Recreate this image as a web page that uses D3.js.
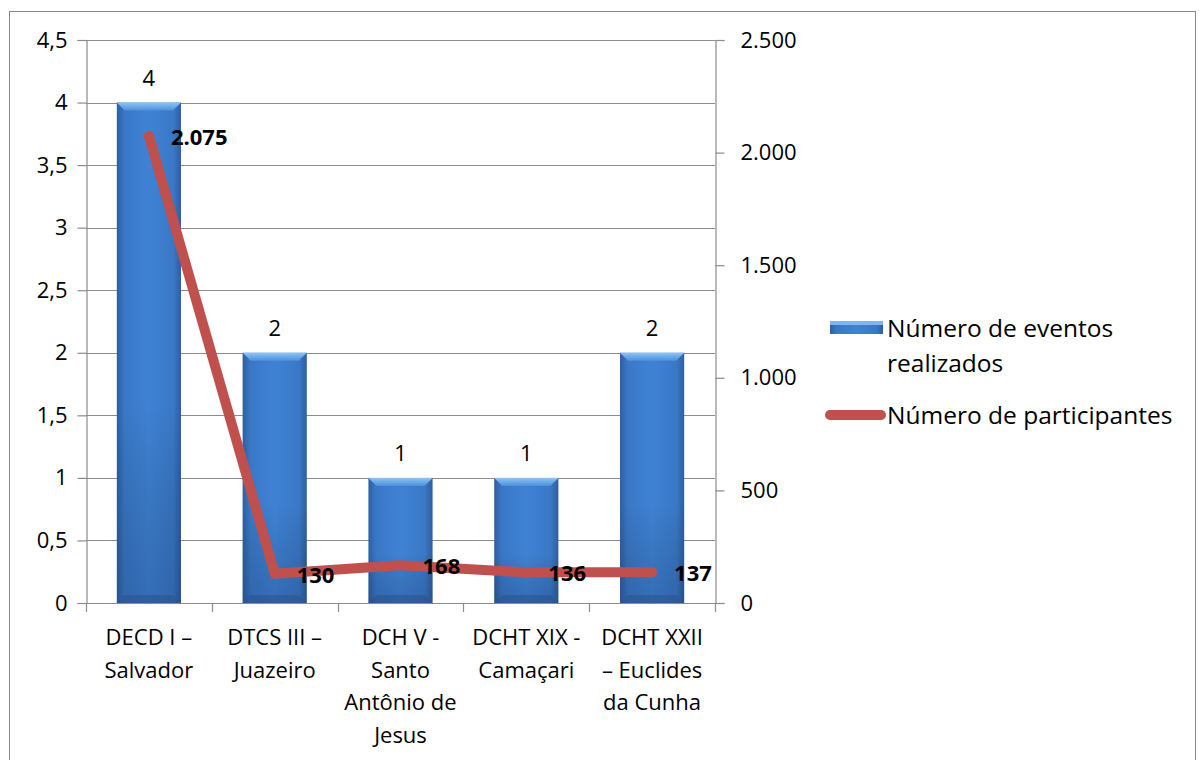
<!DOCTYPE html>
<html><head><meta charset="utf-8">
<script src="https://cdn.jsdelivr.net/npm/d3@7"></script>
<style>body{margin:0;background:#fff}svg{display:block;font-family:"Open Sans",Lato,sans-serif}</style>
</head><body>
<svg id="c" width="1199" height="760"></svg>
<script>
const categories = [
  ["DECD I –","Salvador"],
  ["DTCS III –","Juazeiro"],
  ["DCH V -","Santo","Antônio de","Jesus"],
  ["DCHT XIX -","Camaçari"],
  ["DCHT XXII","– Euclides","da Cunha"]
];
const eventos = [4, 2, 1, 1, 2];
const participantes = [2075, 130, 168, 136, 137];
const leftTicks = [0,0.5,1,1.5,2,2.5,3,3.5,4,4.5];
const rightTicks = [0,500,1000,1500,2000,2500];
const seriesNames = ["Número de eventos realizados","Número de participantes"];

const svg = d3.select("#c");
const L = 86, R = 715, T = 40, B = 603;
const FS = 22, LFS = 24.5;
const fmtL = d => String(d).replace(".", ",");
const fmtR = d => d3.format(",")(d).replace(/,/g, ".");

const x = d3.scaleBand().domain(d3.range(categories.length)).range([L, R]).paddingInner(0.49).paddingOuter(0.245);
const xb = d3.scaleBand().domain(d3.range(categories.length)).range([L, R]);
const yL = d3.scaleLinear().domain([0, 4.5]).range([B, T]);
const yR = d3.scaleLinear().domain([0, 2500]).range([B, T]);

svg.append("rect").attr("x",9.5).attr("y",11.5).attr("width",1186).attr("height",760).attr("fill","none").attr("stroke","#888").attr("stroke-width",1);

const defs = svg.append("defs");
const g1 = defs.append("linearGradient").attr("id","barG").attr("x1","0").attr("x2","1").attr("y1","0").attr("y2","0");
g1.append("stop").attr("offset","0").attr("stop-color","#2d5f9f");
g1.append("stop").attr("offset","0.12").attr("stop-color","#3a78c6");
g1.append("stop").attr("offset","0.5").attr("stop-color","#3f82d4");
g1.append("stop").attr("offset","0.88").attr("stop-color","#3a78c6");
g1.append("stop").attr("offset","1").attr("stop-color","#2d5f9f");
const g2 = defs.append("linearGradient").attr("id","barV").attr("x1","0").attr("x2","0").attr("y1","0").attr("y2","1");
g2.append("stop").attr("offset","0").attr("stop-color","#ffffff").attr("stop-opacity",0);
g2.append("stop").attr("offset","0.6").attr("stop-color","#000000").attr("stop-opacity",0.0);
g2.append("stop").attr("offset","1").attr("stop-color","#0a1e3c").attr("stop-opacity",0.2);
const g3 = defs.append("linearGradient").attr("id","topG").attr("x1","0").attr("x2","0").attr("y1","0").attr("y2","1");
g3.append("stop").attr("offset","0").attr("stop-color","#8ec4f5");
g3.append("stop").attr("offset","1").attr("stop-color","#4b90de");

svg.append("g").selectAll("line").data(leftTicks).join("line")
  .attr("x1",L).attr("x2",R).attr("y1",d=>Math.round(yL(d))+0.5).attr("y2",d=>Math.round(yL(d))+0.5)
  .attr("stroke","#8c8c8c").attr("stroke-width",1.2);

const ax = svg.append("g").attr("transform",`translate(${L+0.5},0)`)
  .call(d3.axisLeft(yL).tickValues(leftTicks).tickFormat(fmtL).tickSize(9).tickPadding(10));
const ar = svg.append("g").attr("transform",`translate(${R+0.5},0)`)
  .call(d3.axisRight(yR).tickValues(rightTicks).tickFormat(fmtR).tickSize(9).tickPadding(16));
[ax, ar].forEach(a => {
  a.select(".domain").attr("stroke","#8c8c8c").attr("stroke-width",1.2);
  a.selectAll(".tick line").attr("stroke","#8c8c8c").attr("stroke-width",1.2);
  a.selectAll("text").attr("font-size",FS).attr("fill","#000").attr("font-family","'Open Sans',sans-serif");
});
svg.append("line").attr("x1",L).attr("x2",R).attr("y1",B+0.5).attr("y2",B+0.5).attr("stroke","#8c8c8c").attr("stroke-width",1.2);
svg.append("g").selectAll("line").data(d3.range(categories.length+1)).join("line")
  .attr("x1",d=>Math.round(d===categories.length? R : xb(d))+0.5).attr("x2",d=>Math.round(d===categories.length? R : xb(d))+0.5)
  .attr("y1",B).attr("y2",B+9).attr("stroke","#8c8c8c").attr("stroke-width",1.2);

const cl = svg.append("g").selectAll("text").data(categories).join("text")
  .attr("x",(d,i)=>xb(i)+xb.bandwidth()/2).attr("y",645).attr("text-anchor","middle").attr("font-size",FS).attr("fill","#000");
cl.selectAll("tspan").data(d=>d).join("tspan").attr("x",function(){return this.parentNode.getAttribute("x");})
  .attr("dy",(d,i)=>i===0?0:32.5).text(d=>d);

const bars = svg.append("g").selectAll("g").data(eventos).join("g");
bars.append("rect").attr("x",(d,i)=>x(i)).attr("y",d=>yL(d)).attr("width",x.bandwidth()).attr("height",d=>B-yL(d)).attr("fill","url(#barG)");
bars.append("rect").attr("x",(d,i)=>x(i)).attr("y",d=>yL(d)).attr("width",x.bandwidth()).attr("height",d=>B-yL(d)).attr("fill","url(#barV)");
const bv = 8;
bars.append("path").attr("d",(d,i)=>{const x0=x(i),x1=x(i)+x.bandwidth(),y0=yL(d);
  return `M${x0},${y0}L${x1},${y0}L${x1-bv},${y0+bv}L${x0+bv},${y0+bv}Z`;}).attr("fill","url(#topG)");
bars.append("path").attr("d",(d,i)=>{const x0=x(i),x1=x(i)+x.bandwidth(),y0=B;
  return `M${x0},${y0}L${x1},${y0}L${x1-bv},${y0-bv}L${x0+bv},${y0-bv}Z`;}).attr("fill","#2a5590").attr("opacity",0.6);
bars.append("text").attr("x",(d,i)=>x(i)+x.bandwidth()/2).attr("y",d=>yL(d)-17).attr("text-anchor","middle")
  .attr("font-size",FS).attr("fill","#000").text(d=>d);

const cx = i => xb(i)+xb.bandwidth()/2;
svg.append("path").datum(participantes)
  .attr("d",d3.line().x((d,i)=>cx(i)).y(d=>yR(d)))
  .attr("fill","none").attr("stroke","#c0504d").attr("stroke-width",10).attr("stroke-linecap","round").attr("stroke-linejoin","round");
svg.append("g").selectAll("text").data(participantes).join("text")
  .attr("x",(d,i)=>cx(i)+22).attr("y",d=>yR(d)+9).attr("font-size",FS).attr("font-weight","bold").attr("fill","#000")
  .text(d=>fmtR(d));

const lg = svg.append("g");
lg.append("rect").attr("x",830).attr("y",321).attr("width",53).attr("height",13).attr("fill","url(#barG)");
lg.append("rect").attr("x",830).attr("y",321).attr("width",53).attr("height",4).attr("fill","#7fb6ee");
lg.append("text").attr("x",887).attr("y",337).attr("font-size",LFS).attr("fill","#000").text("Número de eventos");
lg.append("text").attr("x",887).attr("y",372).attr("font-size",LFS).attr("fill","#000").text("realizados");
lg.append("line").attr("x1",830).attr("x2",881).attr("y1",415).attr("y2",415).attr("stroke","#c0504d").attr("stroke-width",10).attr("stroke-linecap","round");
lg.append("text").attr("x",887).attr("y",424).attr("font-size",LFS).attr("fill","#000").text("Número de participantes");
</script>
</body></html>
